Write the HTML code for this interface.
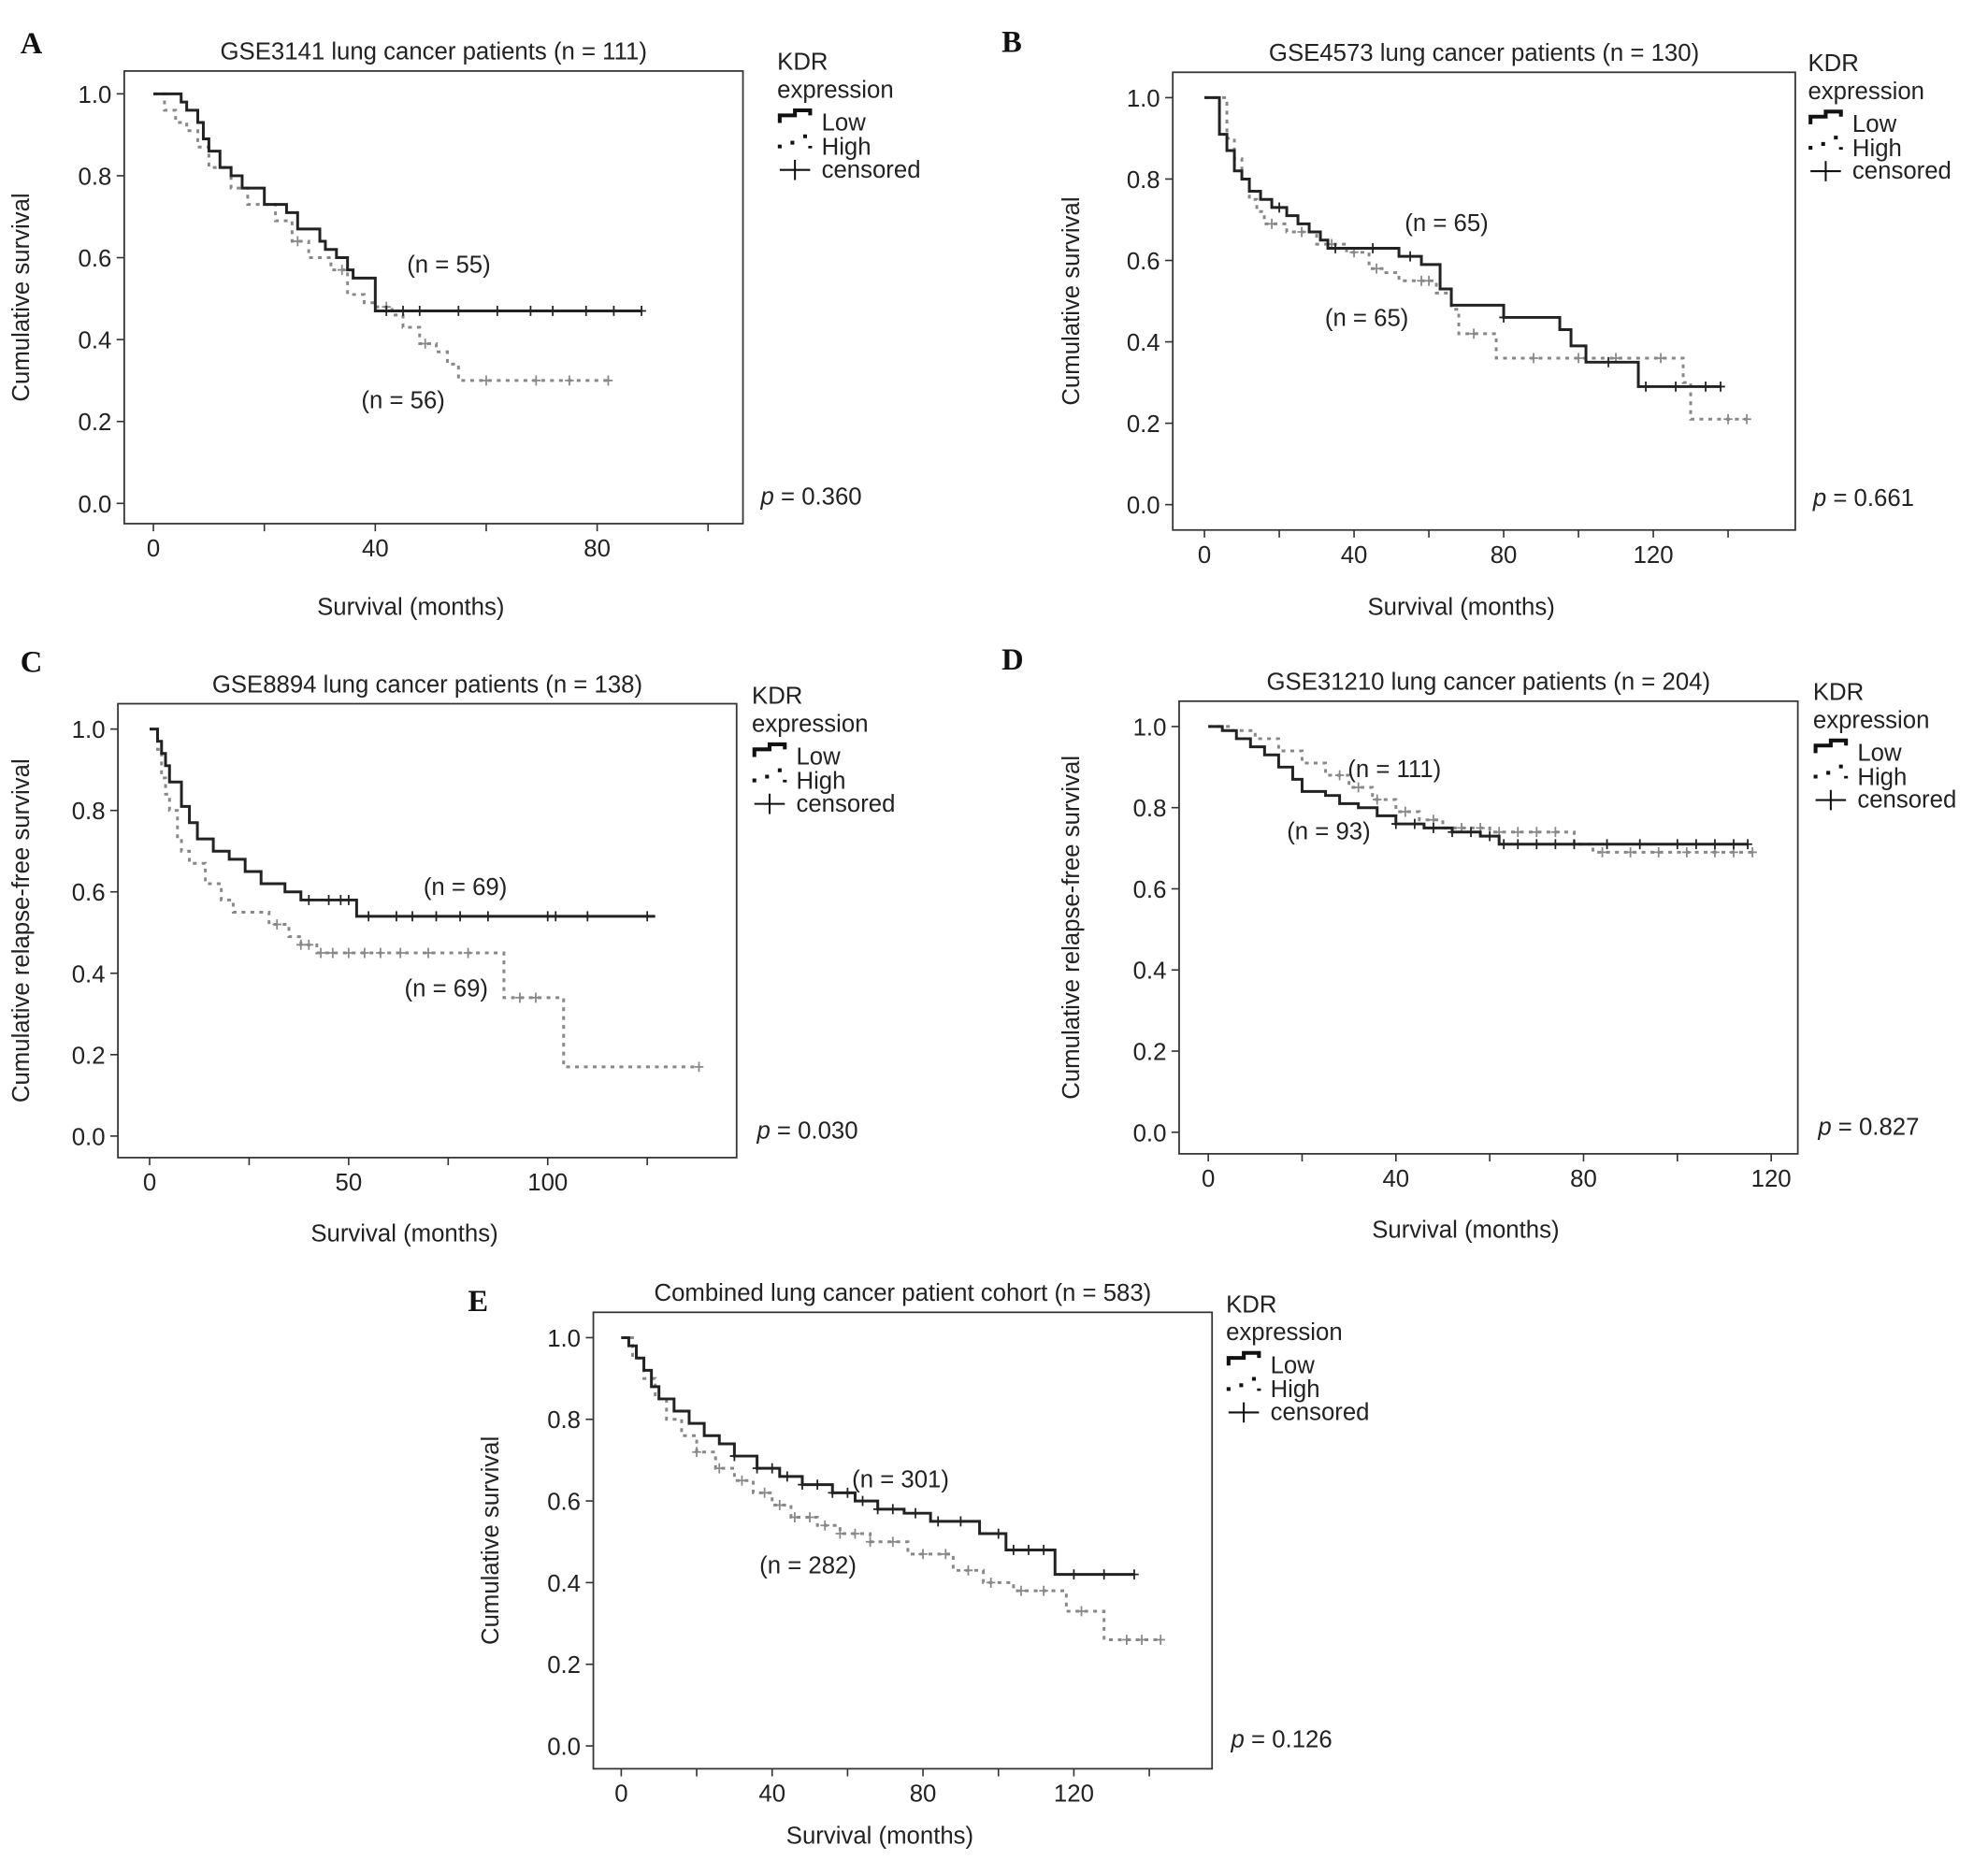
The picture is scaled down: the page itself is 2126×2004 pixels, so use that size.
<!DOCTYPE html>
<html><head><meta charset="utf-8">
<style>
html,body{margin:0;padding:0;background:#fff;}
svg{display:block;font-family:"Liberation Sans",sans-serif;}
</style></head>
<body>
<svg id="fig" width="2126" height="2004" viewBox="0 0 1568 1478"></svg>
<script>
const aLowT=[0,5,6,8,9,10,12,14,16,20,24,26,30,31,33,35,36,40,88];
const aLowS=[1,0.98,0.96,0.93,0.89,0.86,0.82,0.80,0.77,0.73,0.71,0.67,0.64,0.62,0.60,0.57,0.55,0.47,0.47];
const aLowC=[42,45,48,55,62,68,72,78,83,88];
const aHighT=[0,2,4,6,8,10,14,17,22,25,28,32,35,38,40,43,45,48,51,53,55,82];
const aHighS=[1,0.96,0.93,0.91,0.87,0.82,0.77,0.73,0.69,0.64,0.60,0.57,0.51,0.49,0.48,0.46,0.43,0.39,0.37,0.34,0.30,0.30];
const aHighC=[26,34,42,49,60,69,75,82];

const bLowT=[0,4,6,8,10,12,15,18,22,25,28,31,33,52,58,63,66,80,95,98,102,116,138];
const bLowS=[1,0.91,0.87,0.82,0.80,0.77,0.75,0.73,0.71,0.69,0.67,0.65,0.63,0.61,0.59,0.53,0.49,0.46,0.43,0.39,0.35,0.29,0.29];
const bLowC=[20,35,45,55,80,108,118,126,134,138];
const bHighT=[0,6,8,10,12,14,16,22,30,38,44,48,52,62,66,68,78,128,130,145];
const bHighS=[1,0.90,0.85,0.80,0.75,0.72,0.69,0.67,0.64,0.62,0.58,0.57,0.55,0.52,0.48,0.42,0.36,0.30,0.21,0.21];
const bHighC=[18,26,34,40,46,58,60,72,88,100,110,122,140,145];

const cLowT=[0,2,3,4,5,8,10,12,16,20,24,28,34,38,52,127];
const cLowS=[1,0.97,0.94,0.91,0.87,0.81,0.77,0.73,0.70,0.68,0.65,0.62,0.60,0.58,0.54,0.54];
const cLowC=[40,45,48,50,55,62,66,72,78,85,100,102,110,125];
const cHighT=[0,2,3,4,5,7,8,10,14,18,21,30,35,38,42,89,104,138];
const cHighS=[1,0.95,0.88,0.84,0.80,0.73,0.70,0.67,0.62,0.58,0.55,0.52,0.49,0.47,0.45,0.34,0.17,0.17];
const cHighC=[32,38,40,43,46,50,54,58,63,70,80,93,97,138];

const dLowT=[0,3,6,9,12,15,18,20,25,28,32,36,40,46,52,58,62,115];
const dLowS=[1,0.99,0.97,0.95,0.93,0.90,0.87,0.84,0.83,0.81,0.80,0.78,0.76,0.75,0.74,0.73,0.71,0.71];
const dLowC=[40,44,48,52,56,60,63,66,70,74,78,85,92,100,104,108,112,115];
const dHighT=[0,5,10,15,20,25,30,35,40,45,50,60,78,82,116];
const dHighS=[1,0.99,0.97,0.94,0.91,0.88,0.85,0.82,0.79,0.77,0.75,0.74,0.71,0.69,0.69];
const dHighC=[28,32,36,42,48,54,58,62,66,70,74,84,90,96,102,108,112,116];

const eLowT=[0,2,4,6,8,10,14,18,22,26,30,36,42,48,56,62,68,75,82,95,102,115,136];
const eLowS=[1,0.98,0.95,0.92,0.88,0.85,0.82,0.79,0.76,0.74,0.71,0.68,0.66,0.64,0.62,0.60,0.58,0.57,0.55,0.52,0.48,0.42,0.42];
const eLowC=[30,36,40,44,48,52,56,60,64,68,72,78,84,90,100,104,108,112,120,128,136];
const eHighT=[0,3,6,9,12,16,20,25,30,35,40,45,52,58,66,76,88,96,104,118,128,143];
const eHighS=[1,0.95,0.90,0.85,0.80,0.76,0.72,0.68,0.65,0.62,0.59,0.56,0.54,0.52,0.50,0.47,0.43,0.40,0.38,0.33,0.26,0.26];
const eHighC=[20,26,32,38,42,46,50,54,58,62,66,72,80,86,92,98,106,112,122,134,138,143];

const yTicks=[0,0.2,0.4,0.6,0.8,1.0];

const NS="http://www.w3.org/2000/svg";
const svg=document.getElementById('fig');
const FS=19;
function el(tag,attrs,parent){const e=document.createElementNS(NS,tag);for(const k in attrs)e.setAttribute(k,attrs[k]);(parent||svg).appendChild(e);return e;}
function txt(x,y,s,attrs,parent){const t=el('text',Object.assign({x:x,y:y,'font-size':FS,fill:'#222'},attrs||{}),parent);t.textContent=s;return t;}

function panel(p){
  const g=el('g',{});
  
  
  const X=m=>p.x0+m*(p.x1-p.x0)/p.xm1;
  const Ys=s=>p.y0-(s)*(p.y0-p.y1);
  const box=el('rect',{x:p.bl,y:p.bt,width:p.br-p.bl,height:p.bb-p.bt,fill:'none',stroke:'#333','stroke-width':1.3},g);
  
  
  yTicks.forEach(v=>{
    el('line',{x1:p.bl-6,x2:p.bl,y1:Ys(v),y2:Ys(v),stroke:'#333','stroke-width':1.2},g);
    const t=txt(p.bl-10,Ys(v)+7,v.toFixed(1),{'text-anchor':'end'},g);
    
    
  });
  for(let m=0;m<=p.xmax;m+=p.xstep/2){
    const xx=X(m); if(xx>p.br) break;
    el('line',{x1:xx,x2:xx,y1:p.bb,y2:p.bb+6,stroke:'#333','stroke-width':1.2},g);
    if(Math.round(m/p.xstep)*p.xstep===m){
      const t=txt(xx,p.bb+26,String(m),{'text-anchor':'middle'},g);
      
      
    }
  }
  function curve(T,S,C,stroke,w,dash,name){
    let d='M'+X(T[0])+','+Ys(S[0]);
    for(let i=1;i<T.length;i++){d+=' H'+X(T[i])+' V'+Ys(S[i]);}
    const pa=el('path',{d:d,fill:'none',stroke:stroke,'stroke-width':w},g);
    if(dash)pa.setAttribute('stroke-dasharray',dash);
    
    
    C.forEach(c=>{
      let s=S[0];for(let i=0;i<T.length;i++){if(T[i]<=c)s=S[i];}
      const x=X(c),y=Ys(s);
      const m=el('path',{d:`M${x-3.5},${y}H${x+3.5}M${x},${y-4}V${y+4}`,stroke:stroke,'stroke-width':1.3},g);
      
      
    });
  }
  curve(p.hT,p.hS,p.hC,'#888',2.2,'3,4','high');
  curve(p.lT,p.lS,p.lC,'#222',2.2,null,'low');
  const lt=txt(p.lab[0],p.lab[1],p.id,{'font-family':'Liberation Serif, serif','font-weight':'bold','font-size':24,fill:'#111'},g);
  
  const tt=txt((p.bl+p.br)/2,p.bt-9,p.title,{'text-anchor':'middle'},g);
  
  const xl=txt((p.bl+p.br)/2-18,p.xly,'Survival (months)',{'text-anchor':'middle'},g);
  
  const yc=(p.bt+p.bb)/2;
  const yl=txt(p.ylx,yc,p.ylab,{'text-anchor':'middle',transform:`rotate(-90 ${p.ylx} ${yc})`},g);
  
  const n1=txt(p.n1[0],p.n1[1],p.n1[2],{},g);
  
  const n2=txt(p.n2[0],p.n2[1],p.n2[2],{},g);
  
  const pv=el('text',{x:p.pv[0],y:p.pv[1],'font-size':FS,fill:'#222'},g);
  pv.innerHTML='<tspan font-style="italic">p</tspan> = '+p.pv[2];
  
  const lx=p.leg[0],ly=p.leg[1];
  const lg=el('g',{},g);
  
  txt(lx,ly,'KDR',{},lg);
  txt(lx,ly+22,'expression',{},lg);
  el('path',{d:`M${lx+2},${ly+42}V${ly+36}H${lx+14}V${ly+32}H${lx+26}V${ly+36}`,fill:'none',stroke:'#111','stroke-width':3},lg);
  txt(lx+35,ly+48,'Low',{},lg);
  el('path',{d:`M${lx+2},${ly+62}V${ly+59} M${lx+12},${ly+59}V${ly+56} M${lx+22},${ly+54}V${ly+51} M${lx+26},${ly+60}V${ly+62}`,fill:'none',stroke:'#111','stroke-width':3},lg);
  txt(lx+35,ly+67,'High',{},lg);
  el('path',{d:`M${lx+2},${ly+79}H${lx+26}M${lx+14},${ly+71}V${ly+87}`,stroke:'#111','stroke-width':1.5},lg);
  txt(lx+35,ly+85,'censored',{},lg);
}

panel({id:'A',bl:98,br:586,bt:56,bb:413,x0:121,x1:296,xm1:40,xmax:100,xstep:40,y0:397,y1:74,
  lT:aLowT,lS:aLowS,lC:aLowC,hT:aHighT,hS:aHighS,hC:aHighC,lab:[16,42],xly:485,
  title:'GSE3141 lung cancer patients (n = 111)',ylab:'Cumulative survival',ylx:23,
  n1:[321,215,'(n = 55)'],n2:[285,322,'(n = 56)'],pv:[600,398,'0.360'],leg:[613,55]});
panel({id:'B',bl:925,br:1416,bt:57,bb:418,x0:950,x1:1068,xm1:40,xmax:150,xstep:40,y0:398,y1:77,
  lT:bLowT,lS:bLowS,lC:bLowC,hT:bHighT,hS:bHighS,hC:bHighC,lab:[790,41],xly:485,
  title:'GSE4573 lung cancer patients (n = 130)',ylab:'Cumulative survival',ylx:851,
  n1:[1108,182,'(n = 65)'],n2:[1045,257,'(n = 65)'],pv:[1430,399,'0.661'],leg:[1426,56]});
panel({id:'C',bl:93,br:581,bt:555,bb:913,x0:118,x1:275,xm1:50,xmax:150,xstep:50,y0:896,y1:575,
  lT:cLowT,lS:cLowS,lC:cLowC,hT:cHighT,hS:cHighS,hC:cHighC,lab:[16,530],xly:979,
  title:'GSE8894 lung cancer patients (n = 138)',ylab:'Cumulative  relapse-free  survival',ylx:23,
  n1:[334,706,'(n = 69)'],n2:[319,786,'(n = 69)'],pv:[597,898,'0.030'],leg:[593,555]});
panel({id:'D',bl:930,br:1418,bt:553,bb:910,x0:953,x1:1101,xm1:40,xmax:130,xstep:40,y0:893,y1:573,
  lT:dLowT,lS:dLowS,lC:dLowC,hT:dHighT,hS:dHighS,hC:dHighC,lab:[790,528],xly:976,
  title:'GSE31210 lung cancer patients (n = 204)',ylab:'Cumulative  relapse-free  survival',ylx:851,
  n1:[1063,613,'(n = 111)'],n2:[1015,662,'(n = 93)'],pv:[1434,895,'0.827'],leg:[1430,552]});
panel({id:'E',bl:468,br:956,bt:1035,bb:1395,x0:490,x1:609,xm1:40,xmax:150,xstep:40,y0:1377,y1:1055,
  lT:eLowT,lS:eLowS,lC:eLowC,hT:eHighT,hS:eHighS,hC:eHighC,lab:[369,1034],xly:1454,
  title:'Combined lung cancer patient cohort (n = 583)',ylab:'Cumulative survival',ylx:393,
  n1:[672,1173,'(n = 301)'],n2:[599,1241,'(n = 282)'],pv:[971,1378,'0.126'],leg:[967,1035]});
</script>
</body></html>
